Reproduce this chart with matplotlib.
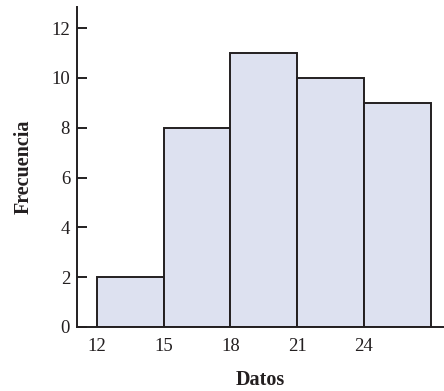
import matplotlib.pyplot as plt
import numpy as np

# Histogram data
bin_edges = [12, 15, 18, 21, 24, 27]
frequencies = [2, 8, 11, 10, 9]
x_ticks = [12, 15, 18, 21, 24]
y_ticks = [0, 2, 4, 6, 8, 10, 12]

plt.rcParams['font.family'] = 'Liberation Serif'

fig = plt.figure(figsize=(4.44, 3.91), dpi=100)
ax = fig.add_axes([0.1734, 0.1637, 0.8266, 0.8186])

widths = np.diff(bin_edges)
ax.bar(bin_edges[:-1], frequencies, width=widths, align='edge',
       color='#dde1f0', edgecolor='#231f20', linewidth=1.4, zorder=2)

ax.set_xlim(11.1, 27.6)
ax.set_ylim(0, 12.85)

for side in ['top', 'right']:
    ax.spines[side].set_visible(False)
for side in ['left', 'bottom']:
    ax.spines[side].set_linewidth(1.4)
    ax.spines[side].set_color('#231f20')

ax.set_xticks(x_ticks)
ax.set_yticks(y_ticks)
ax.tick_params(axis='y', direction='in', length=7, width=1.4, color='#231f20',
               labelsize=13.5, pad=5, labelcolor='#231f20')
ax.tick_params(axis='x', length=0, labelsize=13.5, pad=8, labelcolor='#231f20')

ax.set_xlabel('Datos', fontsize=14.5, fontweight='bold', labelpad=11, color='#231f20')
ax.set_ylabel('Frecuencia', fontsize=14.5, fontweight='bold', labelpad=13, color='#231f20')

plt.savefig('out.png', dpi=100)
